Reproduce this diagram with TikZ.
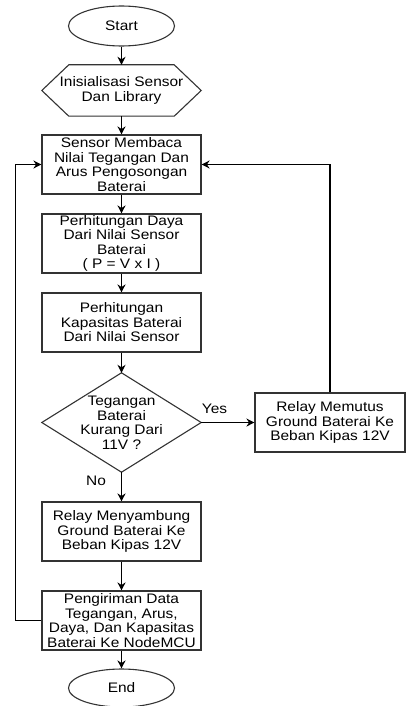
\documentclass[tikz,border=0pt]{standalone}
\usepackage{fontspec}
\setmainfont{Liberation Sans}[FakeStretch=1.12]
\usetikzlibrary{shapes.geometric,arrows.meta}
\begin{document}
\begin{tikzpicture}[x=1pt,y=-1pt,
  every node/.style={font=\fontsize{13.8}{14.5}\selectfont, inner sep=0pt, align=center},
  procbox/.style={draw=black!80, line width=1.1pt, minimum width=159pt, minimum height=59pt},
  term/.style={draw=black!80, line width=1.1pt, ellipse, minimum width=106pt, minimum height=40pt},
  plain/.style={minimum width=159pt},
  arrow/.style={draw=black, line width=1.2pt, -{Stealth[length=8pt,width=8pt]}},
  lbl/.style={font=\fontsize{13.8}{14.5}\selectfont}
]
\useasboundingbox (0,0) rectangle (406,706);

\node[term] (start) at (121.5,26) {Start};
\node[plain, minimum height=51pt] (init) at (121.5,90.5) {Inisialisasi Sensor\\Dan Library};
\draw[black!80, line width=1.1pt] (init.west) -- ([xshift=27pt]init.north west) -- ([xshift=-27pt]init.north east) -- (init.east) -- ([xshift=-27pt]init.south east) -- ([xshift=27pt]init.south west) -- cycle;
\node[procbox] (read) at (121.5,164.5) {Sensor Membaca\\Nilai Tegangan Dan\\Arus Pengosongan\\Baterai};
\node[procbox] (power) at (121.5,243.5) {Perhitungan Daya\\Dari Nilai Sensor\\Baterai\\( P = V x I )};
\node[procbox] (cap) at (121.5,322.5) {Perhitungan\\Kapasitas Baterai\\Dari Nilai Sensor};
\node[plain, minimum height=99pt] (dec) at (121.5,422.5) {Tegangan\\Baterai\\Kurang Dari\\11V ?};
\draw[black!80, line width=1.1pt] (dec.north) -- (dec.east) -- (dec.south) -- (dec.west) -- cycle;
\node[procbox, minimum width=150pt] (cut) at (330,422.5) {Relay Memutus\\Ground Baterai Ke\\Beban Kipas 12V};
\node[procbox] (connect) at (121.5,531.5) {Relay Menyambung\\Ground Baterai Ke\\Beban Kipas 12V};
\node[procbox] (send) at (121.5,620.5) {Pengiriman Data\\Tegangan, Arus,\\Daya, Dan Kapasitas\\Baterai Ke NodeMCU};
\node[term, minimum height=38pt] (end) at (121.5,688) {End};

\draw[arrow] (start) -- (init);
\draw[arrow] (init) -- (read);
\draw[arrow] (read) -- (power);
\draw[arrow] (power) -- (cap);
\draw[arrow] (cap) -- (dec.north);
\draw[arrow] (dec.east) -- node[lbl, above=8pt, pos=0.25] (yes) {Yes} (cut.west);
\draw[arrow] (dec.south) -- node[lbl, left=15pt, pos=0.3] (no) {No} (connect);
\draw[arrow] (connect) -- (send);
\draw[arrow] (send) -- (end);
\draw[arrow] (cut.north) |- (read.east);
\draw[arrow] (send.west) -- ++(-26pt,0) |- (read.west);
\end{tikzpicture}
\end{document}
